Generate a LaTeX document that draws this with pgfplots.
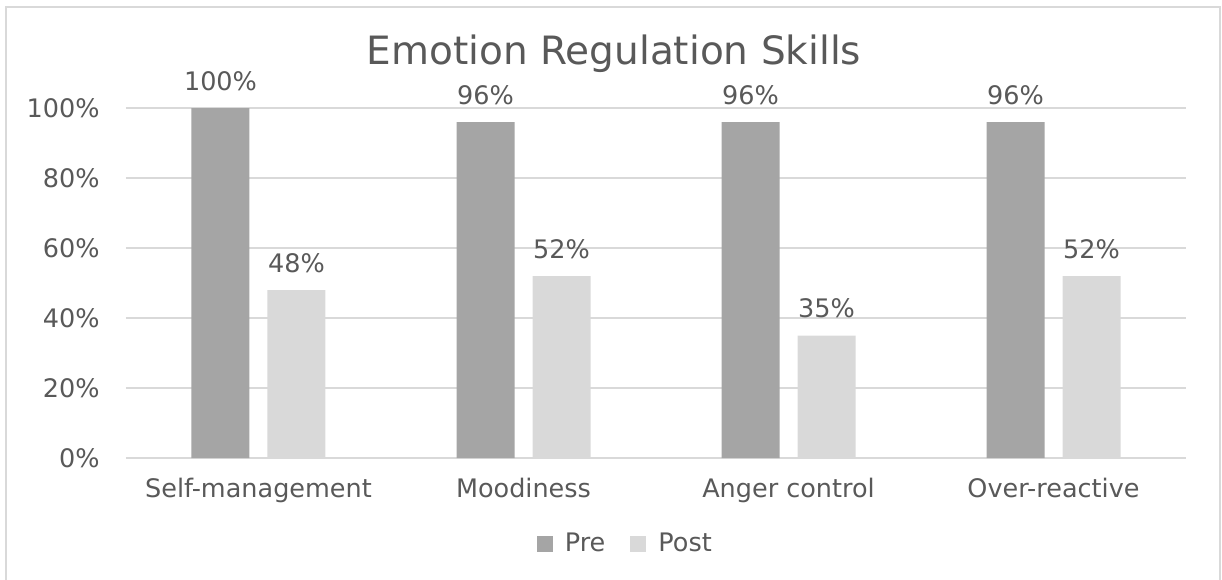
\documentclass[border=0pt]{standalone}
\usepackage{pgfplots}
\pgfplotsset{compat=1.18}
\usepackage{fontspec}
\setmainfont{DejaVu Sans}
\definecolor{preGray}{HTML}{A5A5A5}
\definecolor{postGray}{HTML}{D9D9D9}
\definecolor{gridGray}{HTML}{D9D9D9}
\definecolor{txtGray}{HTML}{595959}

\begin{document}
\begin{tikzpicture}
% chart frame (left, top, right)
\draw[gridGray, line width=1pt] (3pt,-292pt) -- (3pt,-3.5pt) -- (610pt,-3.5pt) -- (610pt,-292pt);
\node[anchor=base, text=txtGray, font=\fontsize{19.5pt}{23pt}\selectfont] at (307pt,-32pt) {Emotion Regulation Skills};
\begin{axis}[
  at={(63pt,-229pt)}, anchor=south west,
  width=530pt, height=175pt, scale only axis,
  ybar, bar width=29pt,
  xmin=-0.5, xmax=3.5, ymin=0, ymax=100,
  xtick={0,1,2,3},
  xticklabels={Self-management,Moodiness,Anger control,Over-reactive},
  ytick={0,20,40,60,80,100},
  yticklabel={\pgfmathprintnumber{\tick}\%},
  /pgf/number format/assume math mode=true,
  major tick length=0pt,
  axis x line*=bottom, axis y line*=left,
  x axis line style={draw=gridGray, line width=1pt},
  y axis line style={draw=none},
  ymajorgrids, grid style={draw=gridGray, line width=0.8pt},
  tick label style={text=txtGray, font=\fontsize{12.75pt}{15pt}\selectfont},
  xticklabel style={anchor=base, yshift=-19.5pt, inner sep=0pt},
  yticklabel style={anchor=base east, inner sep=0pt, xshift=-13pt, yshift=-4.5pt},
  nodes near coords={\pgfmathprintnumber{\pgfplotspointmeta}\%},
  every node near coord/.append style={anchor=base, yshift=9pt, inner sep=0pt, text=txtGray, font=\fontsize{12.75pt}{15pt}\selectfont},
  legend columns=2,
  legend style={at={(0.472,-0.2457)}, anchor=center, draw=none, fill=none,
    font=\fontsize{12.75pt}{15pt}\selectfont, text=txtGray,
    /tikz/every even column/.append style={column sep=10.5pt}},
  legend image code/.code={\fill[#1] (0pt,-4pt) rectangle (8pt,4pt); \path (12pt,0pt);},
]
\addplot[fill=preGray, draw=none, bar shift=-19pt] coordinates {(0,100) (1,96) (2,96) (3,96)};
\addplot[fill=postGray, draw=none, bar shift=19pt] coordinates {(0,48) (1,52) (2,35) (3,52)};
\legend{Pre,Post}
\end{axis}
\pgfresetboundingbox
\path[use as bounding box] (0,0) rectangle (611pt,-289.5pt);
\end{tikzpicture}
\end{document}
